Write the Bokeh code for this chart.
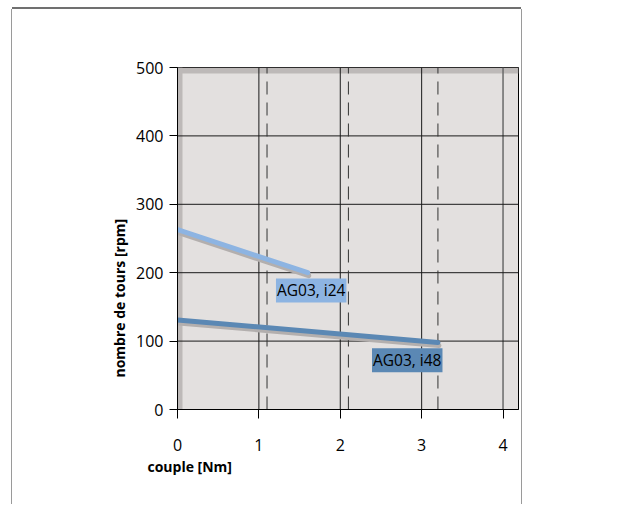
from bokeh.plotting import figure
from bokeh.models import Label, FixedTicker, Range1d, Title
from bokeh.embed import file_html
from bokeh.resources import INLINE

# ---- data ----
torque_i24 = [0.0, 1.6]
speed_i24 = [263, 200]
torque_i48 = [0.0, 3.2]
speed_i48 = [131, 98]

x_ticks = [0, 1, 2, 3, 4]
y_ticks = [0, 100, 200, 300, 400, 500]
grid_x_solid = [1, 2, 3]
grid_x_edge = [4]
grid_y = [100, 200, 300, 400]
dashed_x = [1.1, 2.1, 3.2]

label_texts = ["AG03, i24", "AG03, i48"]
label_x = [1.21, 2.39]
label_y = [174, 72]

x_title = "couple [Nm]"
y_title = "nombre de tours [rpm]"

FONT = "Open Sans"
X_MAX = 4.19
Y_MAX = 500

W, H = 509, 495
ML, MR, MT, MB = 165, 3, 58, 95
fw = W - ML - MR
fh = H - MT - MB
ux = X_MAX / fw   # data units per px (x)
uy = Y_MAX / fh   # data units per px (y)

p = figure(width=W, height=H, output_backend="svg", toolbar_location=None,
           x_range=Range1d(0, X_MAX), y_range=Range1d(0, Y_MAX),
           min_border_left=ML, min_border_right=MR, min_border_top=MT, min_border_bottom=MB)
p.styles = {"box-shadow": "0 -2px 0 #707070, -1px 0 0 #9a9a9a, 1px 0 0 #9a9a9a",
            "margin-left": "12px", "margin-top": "9px"}
p.border_fill_color = "white"
p.background_fill_color = "#e3e0df"
p.outline_line_color = "black"
p.outline_line_width = 1
p.xgrid.visible = False
p.ygrid.visible = False

# shadow bands at top and left
p.quad(left=[0], right=[X_MAX], bottom=[Y_MAX - 6 * uy], top=[Y_MAX], fill_color="#bdb9b8", line_color=None)
p.quad(left=[0], right=[5 * ux], bottom=[0], top=[Y_MAX], fill_color="#bdb9b8", line_color=None)

# grid
p.segment(x0=grid_x_solid, x1=grid_x_solid, y0=[0] * len(grid_x_solid), y1=[Y_MAX] * len(grid_x_solid),
          line_color="#1a1a1a", line_width=1)
p.segment(x0=grid_x_edge, x1=grid_x_edge, y0=[0], y1=[Y_MAX], line_color="#6a6a6a", line_width=1.5)
p.segment(x0=[0] * len(grid_y), x1=[X_MAX] * len(grid_y), y0=grid_y, y1=grid_y,
          line_color="#1a1a1a", line_width=1)
p.segment(x0=dashed_x, x1=dashed_x, y0=[0] * len(dashed_x), y1=[Y_MAX] * len(dashed_x),
          line_color="#333333", line_width=1, line_dash="13 8")

# shadows of curves
dx, dy = 1 * ux, 3 * uy
p.line([t + dx for t in torque_i24], [s - dy for s in speed_i24], line_color="#b3afae", line_width=5, line_cap="round")
p.line([t + dx for t in torque_i48], [s - dy for s in speed_i48], line_color="#b3afae", line_width=5, line_cap="round")
# curves
c24 = "#8db4e2"
c48 = "#5b88b4"
p.line(torque_i24, speed_i24, line_color=c24, line_width=5, line_cap="round")
p.line(torque_i48, speed_i48, line_color=c48, line_width=5, line_cap="round")

for t, x, y, c in zip(label_texts, label_x, label_y, [c24, c48]):
    p.add_layout(Label(x=x, y=y, text=t, text_font=FONT, text_font_size="15.5px", text_color="black",
                       text_baseline="middle", text_align="left", background_fill_color=c, padding=1))

# axes
for ax in (p.xaxis[0], p.yaxis[0]):
    ax.axis_line_color = "black"
    ax.major_tick_line_color = "black"
    ax.major_tick_in = 0
    ax.minor_tick_line_color = None
    ax.major_label_text_font = FONT
    ax.major_label_text_font_size = "16px"
    ax.major_label_text_color = "black"
p.xaxis[0].ticker = FixedTicker(ticks=x_ticks)
p.yaxis[0].ticker = FixedTicker(ticks=y_ticks)
p.xaxis[0].major_tick_out = 9
p.xaxis[0].major_label_standoff = 20
p.yaxis[0].major_tick_out = 8
p.yaxis[0].major_label_standoff = 6

# axis titles
p.add_layout(Title(text=x_title, text_font=FONT, text_font_size="14px", text_font_style="bold",
                   text_color="black", align="left", offset=-30, standoff=2), "below")
p.add_layout(Title(text=y_title, text_font=FONT, text_font_size="14px", text_font_style="bold",
                   text_color="black", align="left", offset=32, standoff=9), "left")

open("out.html", "w").write(file_html(p, INLINE))
